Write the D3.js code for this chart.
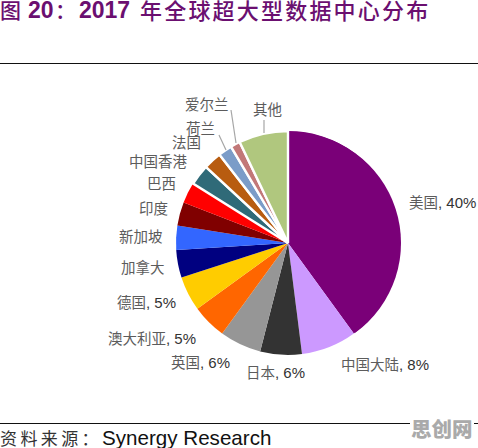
<!DOCTYPE html>
<html><head><meta charset="utf-8">
<script src="https://cdn.jsdelivr.net/npm/d3@7/dist/d3.min.js"></script>
<style>html,body{margin:0;padding:0;background:#fff;overflow:hidden}svg{display:block}</style>
</head><body><svg id="c" width="478" height="448"></svg>
<script>
// Data
const categories = ["美国","中国大陆","日本","英国","澳大利亚","德国","加拿大","新加坡","印度","巴西","中国香港","法国","荷兰","爱尔兰","其他"];
const shares = [40,8,6,6,5,5,4,3.5,3.4,3,3,2.6,2,1.4,7.1];
const shownPercent = ["40%","8%","6%","6%","5%","5%",null,null,null,null,null,null,null,null,null];
const sliceColors = ["#7a0078","#cc99ff","#333333","#969696","#ff6600","#ffcc00","#000080","#3366ff","#800000","#ff0000","#2f6a78","#b85c10","#7b9cc8","#c27878","#b0c77e"];

// Layout
const labelStart = [[409,208],[341,370],[246,378],[171,368],[108,344],[117,308],[121,273],[119,242],[139,214],[147,189],[129,167],[172,148],[186,134],[185,110],[253,115]];
const leaders = [[[231,110],[236,143]],[[219,135],[226,150]],[[264,120],[264,133]]];
const cx = 288, cy = 243, radius = 112;
const latin = '"Liberation Sans"', cjk = '"Noto Sans CJK SC"';

const svg = d3.select("#c");
svg.append("rect").attr("width",478).attr("height",448).attr("fill","#fff");

// Title, clipped by the top edge as in the source image
const title = svg.append("g").attr("fill","#6b0f70");
title.append("text").attr("x",0).attr("y",18).attr("font-family",cjk).attr("font-weight",500).attr("font-size",21).text("图");
title.append("text").attr("x",28).attr("y",17.5).attr("font-family",latin).attr("font-weight","bold").attr("font-size",23).text("20");
title.append("text").attr("x",55).attr("y",18).attr("font-family",cjk).attr("font-weight",500).attr("font-size",21).text("：");
title.append("text").attr("x",79).attr("y",17.5).attr("font-family",latin).attr("font-weight","bold").attr("font-size",23).text("2017");
title.append("text").attr("x",140).attr("y",18.5).attr("font-family",cjk).attr("font-weight",500).attr("font-size",22).attr("letter-spacing",2.2).text("年全球超大型数据中心分布");

// Rules
svg.append("line").attr("x1",0).attr("x2",478).attr("y1",63.5).attr("y2",63.5).attr("stroke","#111").attr("stroke-width",1);
svg.append("line").attr("x1",0).attr("x2",478).attr("y1",423.5).attr("y2",423.5).attr("stroke","#111").attr("stroke-width",1);

// Pie
const pie = d3.pie().value(d=>d).sort(null);
const arc = d3.arc().innerRadius(0).outerRadius(radius);
const g = svg.append("g").attr("transform",`translate(${cx},${cy})`);
const arcs = pie(shares);
const firstSeparated = 10;
g.selectAll("path").data(arcs).join("path")
  .attr("d",arc)
  .attr("fill",(d,i)=>sliceColors[i])
  .attr("stroke",(d,i)=>i>=firstSeparated?"#fff":"none")
  .attr("stroke-width",(d,i)=>i>=firstSeparated?2.4:0);
// The leading slice sits slightly detached from the last one
g.append("path").datum(arcs[0])
  .attr("transform","translate(2,0)")
  .attr("d",d3.arc().innerRadius(0).outerRadius(radius-1)).attr("fill",sliceColors[0]);

// Leader lines
const line = d3.line();
svg.selectAll("path.leader").data(leaders).join("path").attr("class","leader")
  .attr("d",line).attr("fill","none").attr("stroke","#a6a6a6").attr("stroke-width",1.2);

// Labels
const labels = svg.selectAll("text.lab").data(categories).join("text").attr("class","lab")
  .attr("x",(d,i)=>labelStart[i][0]).attr("y",(d,i)=>labelStart[i][1]);
labels.append("tspan").attr("font-family",cjk).attr("font-size",14.5).attr("fill","#5c5c5c").text(d=>d);
labels.filter((d,i)=>shownPercent[i]).append("tspan")
  .attr("font-family",latin).attr("font-size",15).attr("fill","#333")
  .text(d=>`, ${shownPercent[categories.indexOf(d)]}`);

// Source
svg.append("text").attr("x",0).attr("y",445).attr("font-family",cjk).attr("font-size",17).attr("letter-spacing",3.4).attr("fill","#333").text("资料来源：");
svg.append("text").attr("x",102).attr("y",445).attr("font-family",latin).attr("font-size",20.6).attr("fill","#111").text("Synergy Research");

// Watermark
svg.append("rect").attr("x",410).attr("y",419).attr("width",64).attr("height",29).attr("fill","#fff");
svg.append("text").attr("x",411).attr("y",437).attr("font-family",cjk).attr("font-weight",900).attr("font-size",20.5).attr("fill","#aaaaaa").text("思创网");
</script></body></html>
